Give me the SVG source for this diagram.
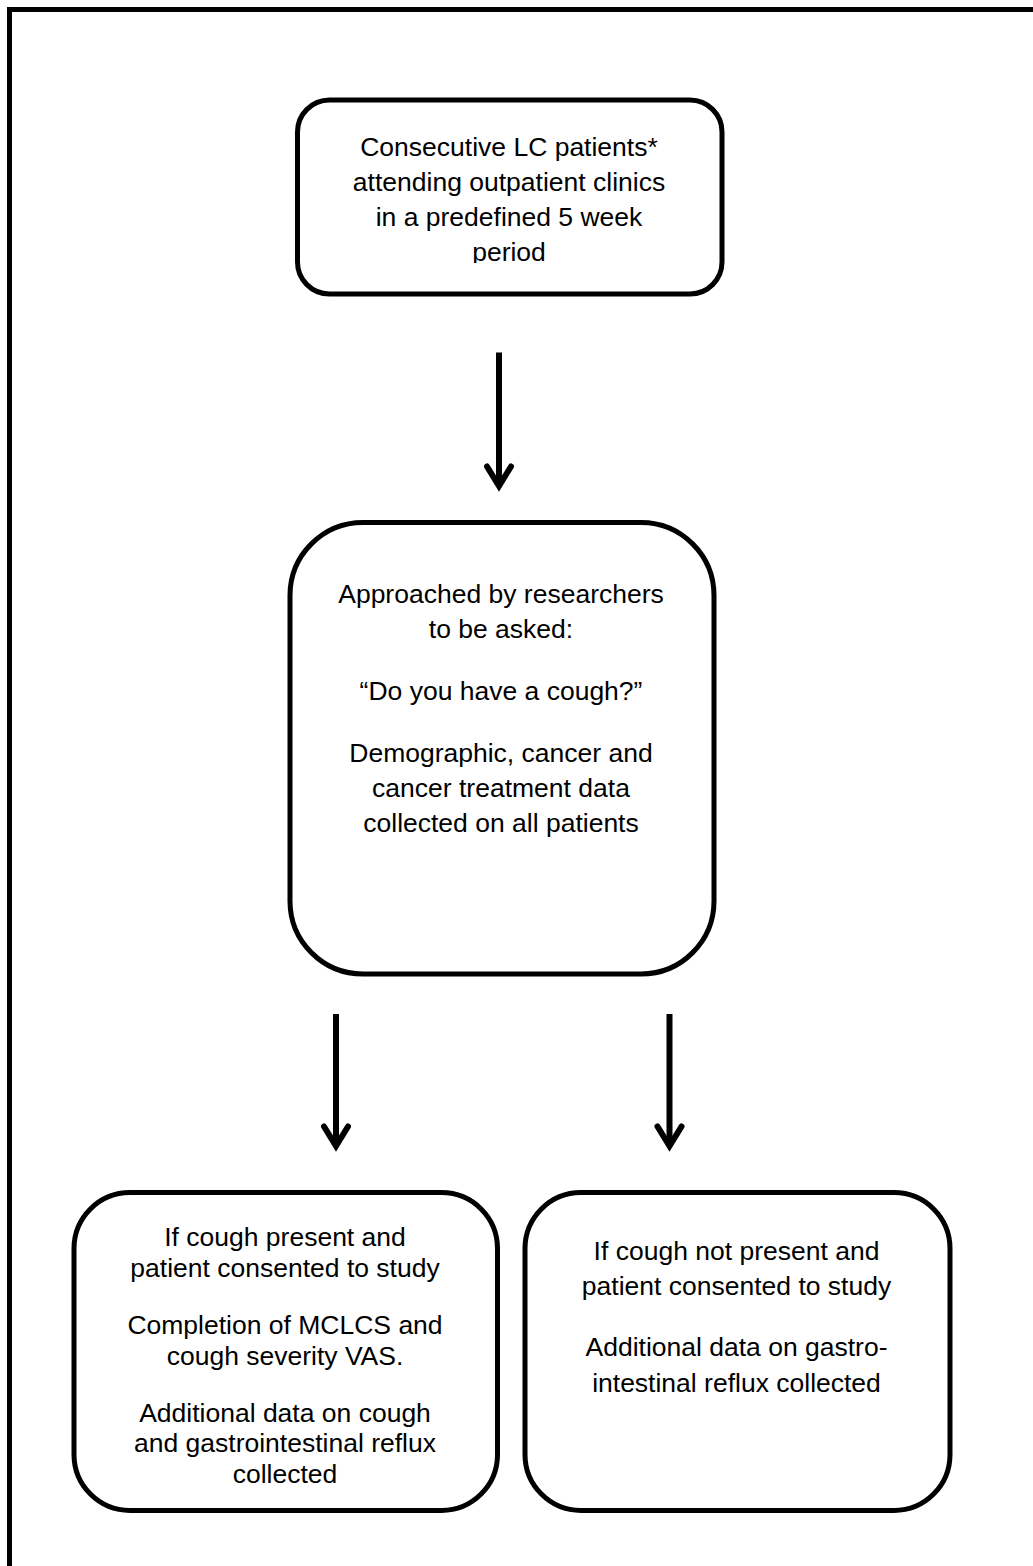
<svg xmlns="http://www.w3.org/2000/svg" width="1033" height="1566" viewBox="0 0 1033 1566">
  <style>
    .box { fill: #ffffff; stroke: #000000; stroke-width: 5; }
    .txt { font-family: "Liberation Sans", Arial, sans-serif; font-size: 26.5px; fill: #000000; text-anchor: middle; }
    .shaft { stroke: #000000; stroke-width: 6; fill: none; }
    .head { stroke: #000000; stroke-width: 6; fill: none; stroke-linecap: round; stroke-linejoin: miter; }
  </style>
  <defs>
    <clipPath id="clipTop">
      <rect x="300" y="100" width="420" height="163"/>
    </clipPath>
  </defs>
  <rect x="0" y="0" width="1033" height="1566" fill="#ffffff"/>
  <rect id="border" x="9.5" y="9.5" width="1060" height="1600" fill="none" stroke="#000000" stroke-width="5"/>

  <g id="node-start">
    <rect class="box" x="297.5" y="100" width="424.5" height="194" rx="32" ry="32"/>
    <g clip-path="url(#clipTop)">
      <text class="txt" x="509" y="156">Consecutive LC patients*</text>
      <text class="txt" x="509" y="191">attending outpatient clinics</text>
      <text class="txt" x="509" y="226">in a predefined 5 week</text>
      <text class="txt" x="509" y="260.5">period</text>
    </g>
  </g>

  <g id="node-approached">
    <rect class="box" x="290" y="522.5" width="424" height="451.5" rx="73" ry="73"/>
    <text class="txt" x="501" y="603">Approached by researchers</text>
    <text class="txt" x="501" y="638">to be asked:</text>
    <text class="txt" x="501" y="700">“Do you have a cough?”</text>
    <text class="txt" x="501" y="762">Demographic, cancer and</text>
    <text class="txt" x="501" y="797">cancer treatment data</text>
    <text class="txt" x="501" y="832">collected on all patients</text>
  </g>

  <g id="node-cough">
    <rect class="box" x="74" y="1192.5" width="423.5" height="318" rx="56" ry="56"/>
    <text class="txt" x="285" y="1246">If cough present and</text>
    <text class="txt" x="285" y="1277">patient consented to study</text>
    <text class="txt" x="285" y="1333.5">Completion of MCLCS and</text>
    <text class="txt" x="285" y="1364.5">cough severity VAS.</text>
    <text class="txt" x="285" y="1421.5">Additional data on cough</text>
    <text class="txt" x="285" y="1452">and gastrointestinal reflux</text>
    <text class="txt" x="285" y="1483">collected</text>
  </g>

  <g id="node-nocough">
    <rect class="box" x="525" y="1192.5" width="425" height="318" rx="56" ry="56"/>
    <text class="txt" x="736.5" y="1260">If cough not present and</text>
    <text class="txt" x="736.5" y="1295">patient consented to study</text>
    <text class="txt" x="736.5" y="1356">Additional data on gastro-</text>
    <text class="txt" x="736.5" y="1391.5">intestinal reflux collected</text>
  </g>

  <g id="connectors">
    <g id="arrow-1">
      <line class="shaft" x1="499" y1="352.5" x2="499" y2="485"/>
      <polyline class="head" points="487,466.5 499,486 511,466.5"/>
    </g>
    <g id="arrow-2">
      <line class="shaft" x1="336" y1="1014" x2="336" y2="1145"/>
      <polyline class="head" points="324,1126.5 336,1146 348,1126.5"/>
    </g>
    <g id="arrow-3">
      <line class="shaft" x1="669.5" y1="1014" x2="669.5" y2="1145"/>
      <polyline class="head" points="657.5,1126.5 669.5,1146 681.5,1126.5"/>
    </g>
  </g>
</svg>
